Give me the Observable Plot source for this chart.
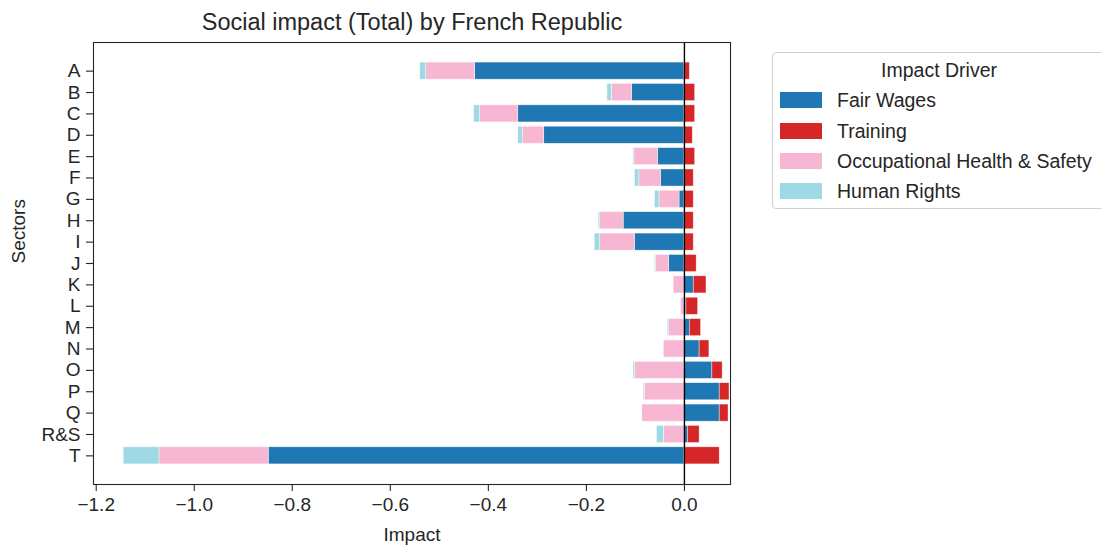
<!DOCTYPE html>
<html>
<head>
<meta charset="utf-8">
<script src="https://cdn.jsdelivr.net/npm/d3@7"></script>
<script src="https://cdn.jsdelivr.net/npm/@observablehq/plot@0.6"></script>
<style>
  html, body { margin: 0; padding: 0; background: #fff; }
  #wrap { position: relative; width: 1101px; height: 548px; overflow: hidden; font-family: "Liberation Sans", Arial, sans-serif; }
  #legend { position: absolute; left: 772px; top: 52px; width: 334px; height: 157px; box-sizing: border-box;
            border: 1px solid #d0d0d0; border-radius: 4px; background: #fff; color: #262626; font-size: 19.5px; }
  #legend .ttl { position: absolute; left: 0; width: 100%; top: 6px; text-align: center; }
  #legend .item { position: absolute; left: 7px; height: 24px; display: flex; align-items: center; white-space: nowrap; }
  #legend .sw { width: 42px; height: 16px; margin-right: 15px; }
</style>
</head>
<body>
<div id="wrap"></div>
<script>
const sectors = ["A","B","C","D","E","F","G","H","I","J","K","L","M","N","O","P","Q","R&S","T"];
const drivers = ["Fair Wages","Training","Occupational Health & Safety","Human Rights"];
const colors = ["#1f77b4","#d62728","#f7b6d2","#9edae5"];

const fairWages   = [-0.427,-0.107,-0.339,-0.286,-0.054,-0.048,-0.010,-0.124,-0.101,-0.031, 0.019, 0.004, 0.011, 0.031, 0.057, 0.072, 0.072, 0.007,-0.848];
const training    = [ 0.011, 0.022, 0.022, 0.017, 0.022, 0.019, 0.019, 0.019, 0.019, 0.025, 0.026, 0.024, 0.023, 0.020, 0.021, 0.020, 0.018, 0.024, 0.072];
const ohs         = [-0.100,-0.041,-0.078,-0.044,-0.048,-0.044,-0.041,-0.048,-0.071,-0.027,-0.022,-0.007,-0.031,-0.042,-0.101,-0.081,-0.086,-0.042,-0.223];
const humanRights = [-0.012,-0.009,-0.012,-0.009,-0.002,-0.009,-0.009,-0.003,-0.011,-0.002, 0.000, 0.000,-0.003, 0.000,-0.003,-0.002, 0.000,-0.014,-0.073];

const series = [fairWages, training, ohs, humanRights];
const data = [];
sectors.forEach((s, i) => {
  drivers.forEach((d, j) => data.push({sector: s, driver: d, value: series[j][i]}));
});

const font = "'Liberation Sans', Arial, sans-serif";

const chart = Plot.plot({
  width: 1101,
  height: 548,
  marginTop: 42,
  marginBottom: 64,
  marginLeft: 93,
  marginRight: 371,
  style: {fontFamily: font, color: "#262626", background: "#fff"},
  x: {domain: [-1.2055, 0.094], label: null},
  y: {domain: sectors, paddingInner: 0.2, paddingOuter: 0.94, round: false, label: null},
  color: {domain: drivers, range: colors},
  marks: [
    Plot.barX(data, Plot.stackX({x: "value", y: "sector", fill: "driver", stroke: "white", strokeWidth: 0.6, strokeOpacity: 0.7})),
    Plot.ruleX([0], {stroke: "black", strokeWidth: 1.4}),
    Plot.frame({stroke: "#262626", strokeWidth: 1.1}),
    Plot.axisX({ticks: [-1.2,-1.0,-0.8,-0.6,-0.4,-0.2,0.0], tickFormat: d3.format(".1f"), tickSize: 7, tickPadding: 6, fontSize: 19, stroke: "#262626", strokeWidth: 1.1, label: null}),
    Plot.axisY({tickSize: 7, tickPadding: 6, fontSize: 19, stroke: "#262626", strokeWidth: 1.1, label: null}),
    Plot.text(["Social impact (Total) by French Republic"], {frameAnchor: "top", lineAnchor: "top", dy: -29, fontSize: 23.5, fill: "#262626"}),
    Plot.text(["Impact"], {frameAnchor: "bottom", lineAnchor: "top", dy: 43, fontSize: 19, fill: "#262626"}),
    Plot.text(["Sectors"], {frameAnchor: "left", rotate: -90, dx: -75, fontSize: 19, fill: "#262626"})
  ]
});

const wrap = document.getElementById("wrap");
wrap.appendChild(chart);

const legend = document.createElement("div");
legend.id = "legend";
const ttl = document.createElement("div");
ttl.className = "ttl";
ttl.textContent = "Impact Driver";
legend.appendChild(ttl);
const centers = [47, 78, 108, 138];
drivers.forEach((d, i) => {
  const item = document.createElement("div");
  item.className = "item";
  item.style.top = (centers[i] - 12) + "px";
  const sw = document.createElement("div");
  sw.className = "sw";
  sw.style.background = colors[i];
  const lab = document.createElement("span");
  lab.textContent = d;
  item.appendChild(sw);
  item.appendChild(lab);
  legend.appendChild(item);
});
wrap.appendChild(legend);
</script>
</body>
</html>
